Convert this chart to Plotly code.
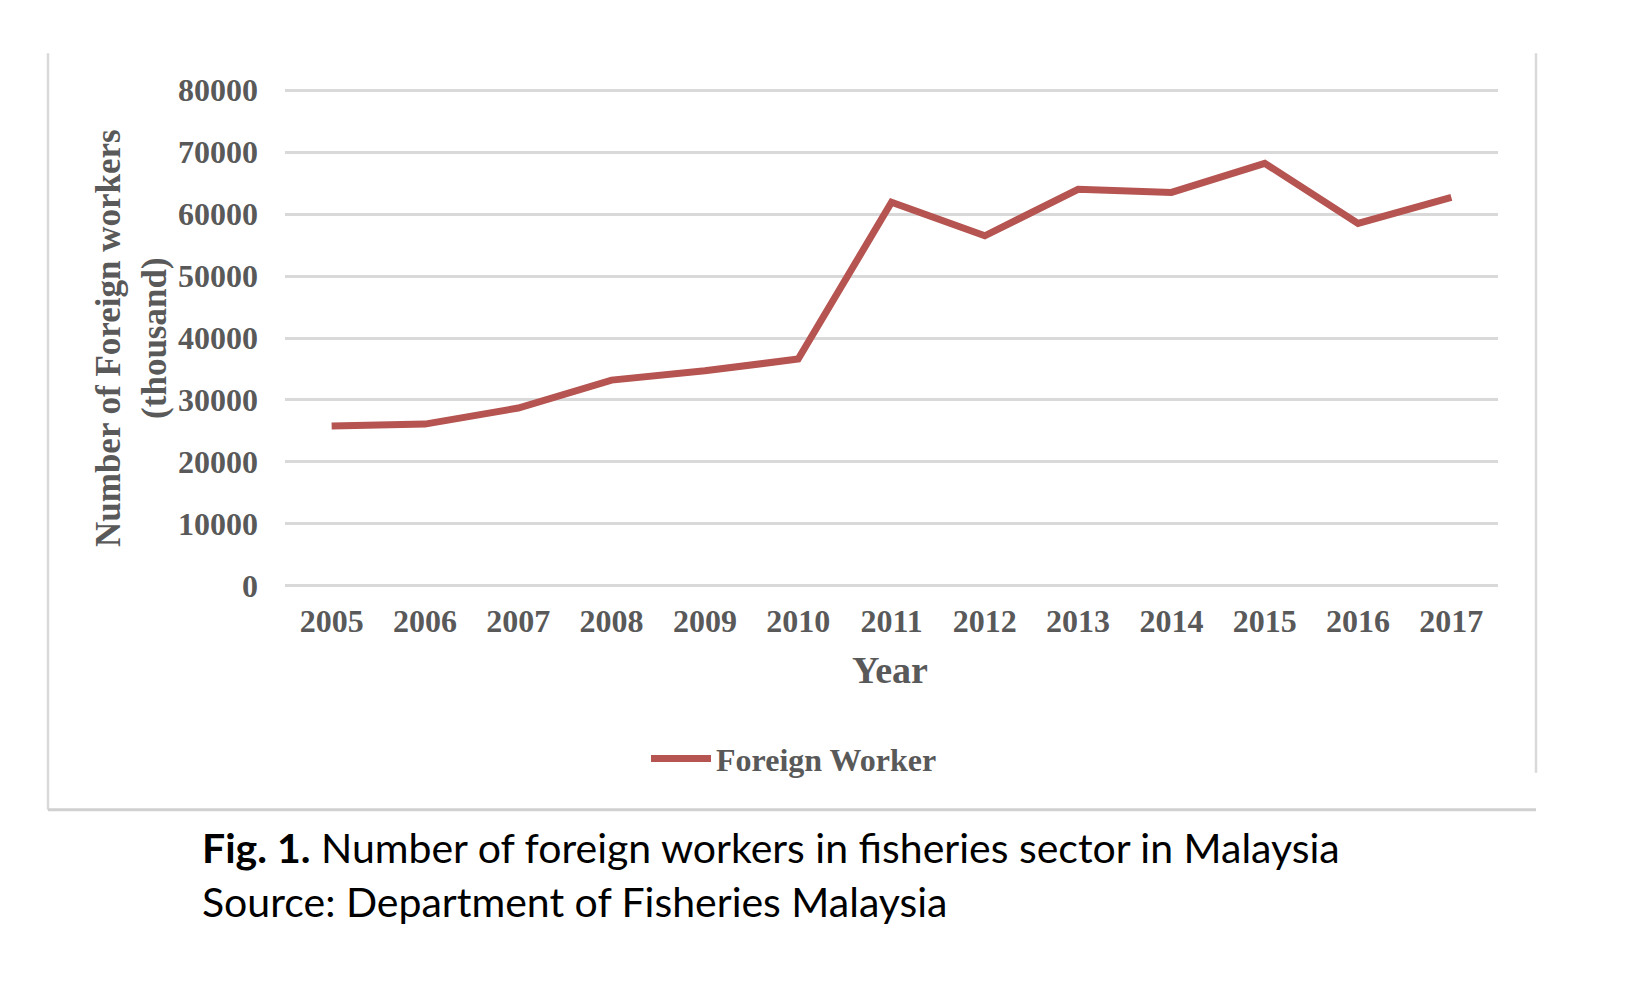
import plotly.graph_objects as go

# --- dados ---
anos = ["2005", "2006", "2007", "2008", "2009", "2010", "2011",
        "2012", "2013", "2014", "2015", "2016", "2017"]
trabalhadores = [25800, 26100, 28700, 33200, 34700, 36600, 61900,
                 56500, 64000, 63500, 68200, 58500, 62700]
ticks_y = [0, 10000, 20000, 30000, 40000, 50000, 60000, 70000, 80000]

W, H = 1632, 996
# eixo y com folga de 1000 em cada ponta para que as linhas 0 e 80000 apareçam
L, R, T, B = 277, 142, 82 - 6.2, 418 - 6.2
pw, ph = W - L - R, H - T - B


def px_x(x):
    return (x - L) / pw


def px_y(y):
    return (H - B - y) / ph


cinza = "#595959"
serif = "Liberation Serif"

fig = go.Figure()
fig.add_trace(go.Scatter(
    x=anos, y=trabalhadores, mode="lines", name="Foreign Worker",
    line=dict(color="#B55450", width=7),
))

fig.update_layout(
    width=W, height=H, autosize=False,
    margin=dict(l=L, r=R, t=T, b=B),
    paper_bgcolor="white", plot_bgcolor="white",
    font=dict(family=serif, color=cinza, size=30),
    showlegend=True,
    legend=dict(
        orientation="h", x=px_x(786), y=px_y(751),
        xanchor="center", yanchor="middle",
        font=dict(family=serif, size=32, color=cinza, weight="bold"),
        itemwidth=60,
    ),
    xaxis=dict(
        type="category", range=[-0.5, 12.5],
        showgrid=False, zeroline=False, showline=False,
        tickfont=dict(family=serif, size=32, color=cinza, weight="bold"),
        ticklabelstandoff=7,
    ),
    yaxis=dict(
        range=[-1000, 81000], tickvals=ticks_y,
        ticktext=[str(v) for v in ticks_y],
        showgrid=True, gridcolor="#D9D9D9", gridwidth=2.5,
        zeroline=False, showline=False,
        tickfont=dict(family=serif, size=32, color=cinza, weight="bold"),
        ticklabelstandoff=26,
    ),
)

# títulos dos eixos
fig.add_annotation(
    text="<b>Number of Foreign workers<br>(thousand)</b>",
    xref="paper", yref="paper", x=px_x(124), y=px_y(330),
    xanchor="center", yanchor="middle",
    textangle=-90, showarrow=False,
    font=dict(family=serif, size=35, color=cinza),
)
fig.add_annotation(
    text="<b>Year</b>", xref="paper", yref="paper",
    x=px_x(882), y=px_y(662), showarrow=False,
    xanchor="center", yanchor="middle",
    font=dict(family=serif, size=38, color=cinza),
)

# legenda da figura
fig.add_annotation(
    text="<b>Fig. 1.</b> Number of foreign workers in fisheries sector in Malaysia",
    xref="paper", yref="paper", x=px_x(192), y=px_y(840),
    xanchor="left", yanchor="middle", showarrow=False,
    font=dict(family="Lato", size=41, color="#000000"),
)
fig.add_annotation(
    text="Source: Department of Fisheries Malaysia",
    xref="paper", yref="paper", x=px_x(192), y=px_y(894),
    xanchor="left", yanchor="middle", showarrow=False,
    font=dict(family="Lato", size=41, color="#000000"),
)

# moldura da área do gráfico (sem linha superior)
borda = dict(color="#D9D9D9", width=2.5)
fig.add_shape(type="line", xref="paper", yref="paper",
              x0=px_x(40), x1=px_x(40), y0=px_y(45), y1=px_y(802), line=borda)
fig.add_shape(type="line", xref="paper", yref="paper",
              x0=px_x(1528), x1=px_x(1528), y0=px_y(45), y1=px_y(765), line=borda)
fig.add_shape(type="line", xref="paper", yref="paper",
              x0=px_x(40), x1=px_x(1528), y0=px_y(802), y1=px_y(802),
              line=dict(color="#D0D0D0", width=3))

fig.write_html("out.html")
